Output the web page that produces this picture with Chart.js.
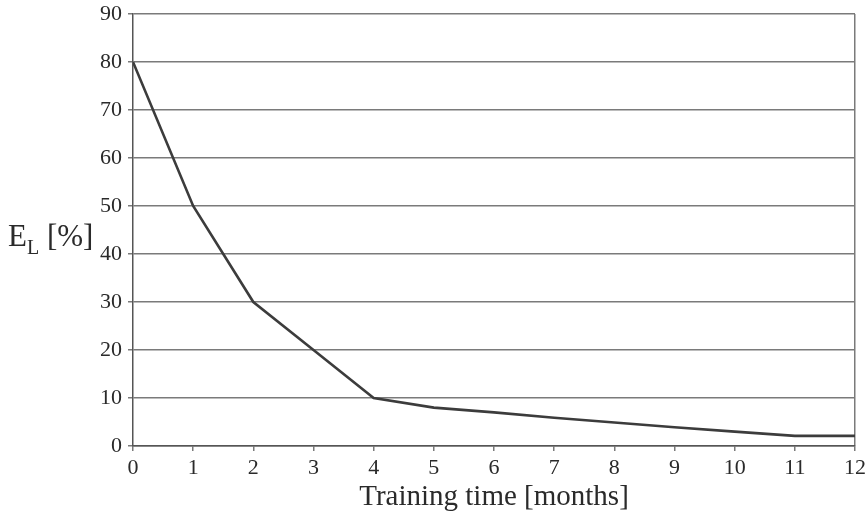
<!DOCTYPE html>
<html>
<head>
<meta charset="utf-8">
<script src="https://cdn.jsdelivr.net/npm/chart.js@4.4.1/dist/chart.umd.min.js"></script>
<style>
  html, body { margin: 0; padding: 0; background: #fff; }
  #wrap { width: 865px; height: 515px; position: relative; }
</style>
</head>
<body>
<div id="wrap"><canvas id="c"></canvas></div>
<script>
const months = [0, 1, 2, 3, 4, 5, 6, 7, 8, 9, 10, 11, 12];
const elValues = [80, 50, 30, 20, 10, 8, 7, 5.9, 4.9, 3.9, 3.0, 2.1, 2.1];
const yTicks = [0, 10, 20, 30, 40, 50, 60, 70, 80, 90];
const xTitle = 'Training time [months]';
const yTitleMain = 'E';
const yTitleSub = 'L';
const yTitleRest = ' [%]';

const serif = '"Liberation Serif", "DejaVu Serif", serif';
const gridCol = '#7a7a7a';
const textCol = '#2a2a2a';

const yTitlePlugin = {
  id: 'yTitle',
  afterDraw(chart) {
    const ctx = chart.ctx;
    const y40 = chart.scales.y.getPixelForValue(40);
    const y50 = chart.scales.y.getPixelForValue(50);
    const yMid = (y40 + y50) / 2;
    ctx.save();
    ctx.fillStyle = textCol;
    ctx.textBaseline = 'alphabetic';
    ctx.textAlign = 'left';
    let x = 8;
    const base = yMid + 16;
    ctx.font = '31px ' + serif;
    ctx.fillText(yTitleMain, x, base);
    x += ctx.measureText(yTitleMain).width;
    ctx.font = '20px ' + serif;
    ctx.fillText(yTitleSub, x, base + 8);
    x += ctx.measureText(yTitleSub).width;
    ctx.font = '31px ' + serif;
    ctx.fillText(yTitleRest, x, base);
    ctx.restore();
  }
};

new Chart(document.getElementById('c'), {
  type: 'line',
  data: {
    datasets: [{
      data: months.map((m, i) => ({ x: m, y: elValues[i] })),
      borderColor: '#3c3c3c',
      borderWidth: 2.6,
      pointRadius: 0,
      tension: 0,
      fill: false
    }]
  },
  options: {
    responsive: true,
    maintainAspectRatio: false,
    animation: false,
    layout: { padding: { top: 14, right: 10, left: 0, bottom: 0 } },
    plugins: { legend: { display: false }, tooltip: { enabled: false } },
    scales: {
      x: {
        type: 'linear',
        min: 0,
        max: 12,
        afterBuildTicks(scale) { scale.ticks = months.map(v => ({ value: v })); },
        afterFit(scale) {
          scale.height = 69;
          scale.paddingLeft = 0;
          scale.paddingRight = 0;
        },
        grid: {
          color: ctx => (ctx.tick && ctx.tick.value === 12) ? gridCol : 'rgba(0,0,0,0)',
          lineWidth: 1.5,
          drawTicks: true,
          tickLength: 5,
          tickColor: gridCol
        },
        border: { display: true, color: '#555', width: 1.5 },
        ticks: {
          color: textCol,
          font: { family: serif, size: 22 },
          padding: 4,
          maxRotation: 0,
          autoSkip: false
        },
        title: {
          display: true,
          text: xTitle,
          color: textCol,
          font: { family: serif, size: 29 },
          padding: { top: 0, bottom: 0 }
        }
      },
      y: {
        min: 0,
        max: 90,
        afterBuildTicks(scale) { scale.ticks = yTicks.map(v => ({ value: v })); },
        afterFit(scale) {
          scale.width = 133;
          scale.paddingTop = 0;
          scale.paddingBottom = 0;
        },
        grid: {
          color: gridCol,
          lineWidth: 1.5,
          drawTicks: true,
          tickLength: 5,
          tickColor: gridCol
        },
        border: { display: true, color: '#555', width: 1.5 },
        ticks: {
          color: textCol,
          font: { family: serif, size: 22 },
          padding: 6
        }
      }
    }
  },
  plugins: [yTitlePlugin]
});
</script>
</body>
</html>
